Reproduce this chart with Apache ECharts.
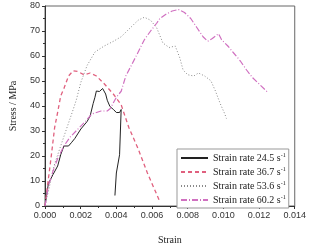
<!DOCTYPE html>
<html>
<head>
<meta charset="utf-8">
<script src="https://cdn.jsdelivr.net/npm/echarts@6/dist/echarts.min.js"></script>
<style>
  html, body { margin: 0; padding: 0; background: #fff; }
  #chart { width: 309px; height: 250px; }
</style>
</head>
<body>
<div id="chart"></div>
<script>
// strain / stress pairs
const rate245 = [
  [0, 0], [0.00019, 9], [0.00045, 12.6], [0.00071, 16], [0.00088, 20.5], [0.00106, 24],
  [0.00132, 24], [0.00150, 25.5], [0.00167, 27], [0.00201, 30.8], [0.00236, 33.8],
  [0.00253, 36], [0.0027, 41], [0.00280, 43.5], [0.00288, 46], [0.00297, 46.7],
  [0.00305, 45.8], [0.00314, 46.3], [0.00323, 47], [0.0034, 44.8], [0.00349, 42.3],
  [0.00364, 39.8], [0.00384, 38.6], [0.004, 37.4], [0.00418, 37.4], [0.00427, 38.6],
  [0.00418, 20.5], [0.004, 13.2], [0.00392, 4.2]
];
const rate367 = [
  [0, 0], [0.00019, 10.8], [0.00036, 20.5], [0.00054, 31.4], [0.00071, 37.5],
  [0.00088, 44], [0.00106, 47], [0.00132, 52], [0.00158, 54.1], [0.00184, 53.8],
  [0.00219, 52.5], [0.00253, 53.2], [0.00288, 52], [0.00332, 48.9], [0.00384, 44.7],
  [0.00427, 40.5], [0.0047, 31.4], [0.00522, 22.9], [0.00574, 13.2], [0.00618, 6],
  [0.00644, 1.7]
];
const rate536 = [
  [0, 0], [0.00054, 16.9], [0.00106, 27.8], [0.00158, 38.6], [0.00175, 42.3],
  [0.00201, 49.5], [0.00236, 56.2], [0.0028, 61.6], [0.00332, 64], [0.00384, 65.9],
  [0.00427, 67.7], [0.0047, 70.7], [0.00522, 74.3], [0.00557, 75.5], [0.00592, 74.3],
  [0.00626, 71.3], [0.00661, 65.2], [0.00696, 63.4], [0.0073, 64], [0.00756, 59.2],
  [0.00774, 54.4], [0.008, 52.5], [0.00834, 52], [0.0086, 53.2], [0.00895, 52],
  [0.0093, 50.1], [0.00956, 45.9], [0.00982, 41], [0.01008, 36.8], [0.01017, 35]
];
const rate602 = [
  [0, 0], [0.00019, 8], [0.00045, 14], [0.00071, 19], [0.00106, 24], [0.0014, 27.5],
  [0.00193, 31.4], [0.00227, 33.8], [0.00262, 36.8], [0.00314, 38], [0.00349, 38],
  [0.00366, 39], [0.004, 43.5], [0.00427, 45.9], [0.00453, 52], [0.00488, 56.8],
  [0.00514, 60.4], [0.00557, 66.5], [0.00592, 70], [0.00626, 73.1], [0.00644, 75],
  [0.00678, 76.7], [0.00713, 78], [0.00748, 78.6], [0.00782, 77.4], [0.00817, 75],
  [0.00852, 71.3], [0.00886, 67.7], [0.00912, 65.9], [0.00938, 67], [0.00973, 68.9],
  [0.0099, 66.5], [0.01025, 64], [0.0106, 61], [0.01095, 58], [0.0113, 54.4],
  [0.01164, 51.3], [0.01199, 48.9], [0.01234, 46.5], [0.01251, 45.3]
];
const seriesNames = ['Strain rate 24.5 s', 'Strain rate 36.7 s', 'Strain rate 53.6 s', 'Strain rate 60.2 s'];

const chart = echarts.init(document.getElementById('chart'));

const tickFont = { fontFamily: 'Liberation Sans', fontSize: 9, color: '#333' };
const serif = 'Liberation Serif';

const mkSeries = (name, data, color, type, width) => ({
  name: name,
  type: 'line',
  data: data,
  symbol: 'none',
  smooth: false,
  lineStyle: { color: color, width: width, type: type },
  itemStyle: { color: color },
  z: 3
});

chart.setOption({
  animation: false,
  backgroundColor: '#fff',
  grid: { left: 33, right: 7, top: 6, bottom: 24, show: true, borderColor: '#666', borderWidth: 1 },
  legend: {
    orient: 'vertical',
    left: 177,
    top: 149,
    itemWidth: 27,
    itemHeight: 10,
    itemGap: 3,
    padding: [3, 3, 3, 3],
    backgroundColor: '#fff',
    borderColor: '#999',
    borderWidth: 1,
    borderRadius: 0,
    itemStyle: { opacity: 0 },
    data: seriesNames,
    formatter: (n) => '{t|' + n + '}{s|-1}',
    textStyle: {
      rich: {
        t: { fontFamily: serif, fontSize: 10, color: '#222' },
        s: { fontFamily: serif, fontSize: 6, color: '#222', verticalAlign: 'top', padding: [0, 0, 6, 0] }
      }
    }
  },
  xAxis: {
    type: 'value',
    min: 0,
    max: 0.014,
    interval: 0.002,
    name: 'Strain',
    nameLocation: 'middle',
    nameGap: 29,
    nameTextStyle: { fontFamily: serif, fontSize: 10, color: '#222' },
    axisLine: { onZero: false, lineStyle: { color: '#333', width: 1 } },
    axisTick: { show: true, length: 3, lineStyle: { color: '#333' } },
    minorTick: { show: true, splitNumber: 2, length: 2, lineStyle: { color: '#333' } },
    axisLabel: { ...tickFont, margin: 5, formatter: (v) => v.toFixed(3) },
    splitLine: { show: false }
  },
  yAxis: {
    type: 'value',
    min: 0,
    max: 80,
    interval: 10,
    name: 'Stress / MPa',
    nameLocation: 'middle',
    nameGap: 27,
    nameTextStyle: { fontFamily: serif, fontSize: 10, color: '#222' },
    axisLine: { show: true, lineStyle: { color: '#333', width: 1 } },
    axisTick: { show: true, length: 3, lineStyle: { color: '#333' } },
    minorTick: { show: true, splitNumber: 2, length: 2, lineStyle: { color: '#333' } },
    axisLabel: { ...tickFont, margin: 5 },
    splitLine: { show: false }
  },
  series: [
    mkSeries(seriesNames[0], rate245, '#222222', 'solid', 1),
    mkSeries(seriesNames[1], rate367, '#e0607e', [4, 3], 1.3),
    mkSeries(seriesNames[2], rate536, '#8a8a8a', [1, 2], 1),
    mkSeries(seriesNames[3], rate602, '#d070c0', [6, 2, 1, 2], 1.2)
  ]
});
</script>
</body>
</html>
